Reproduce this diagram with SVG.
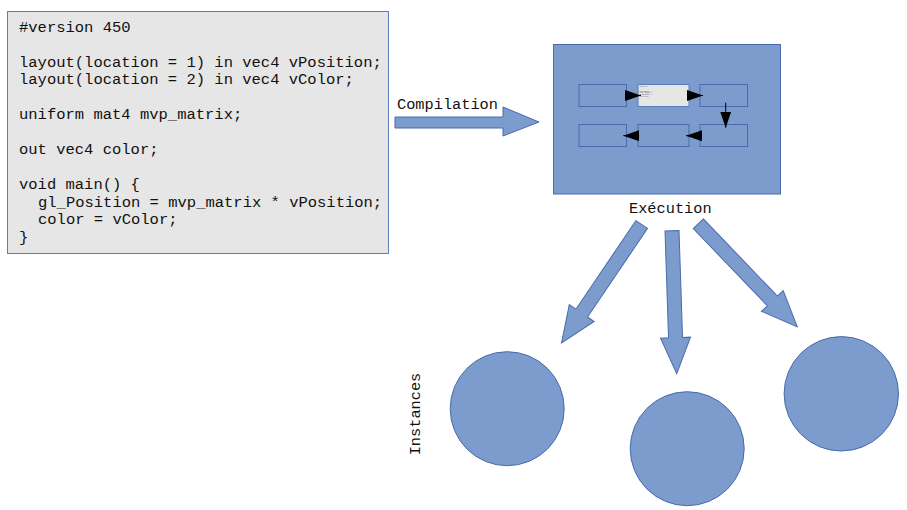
<svg xmlns="http://www.w3.org/2000/svg" width="907" height="510" viewBox="0 0 907 510">
<style>
.mono{font-family:"Liberation Mono","DejaVu Sans Mono",monospace;fill:#111}
.code{font-size:15.5px}
.lbl{font-size:15.3px}
.tiny{font-size:1.1px}
.blue{fill:#7b9ccd;stroke:#4a6aad;stroke-width:1}
.gray{fill:#e6e6e6;stroke:#5b7dba;stroke-width:1}
.conn{stroke:#000;stroke-width:1;fill:none}
</style>
<defs>
<marker id="tri" markerUnits="userSpaceOnUse" markerWidth="16" markerHeight="11" refX="16" refY="5.5" orient="auto">
<path d="M0,0 L16,5.5 L0,11 Z" fill="#000"/>
</marker>
<path id="barrow" d="M0,-7 L107,-7 L107,-15 L143,0 L107,15 L107,7 L0,7 Z"/>
</defs>

<g id="code">
<rect class="gray" x="7.5" y="11.5" width="381" height="242"/>
<text class="mono code" x="19" y="31.5">#version 450</text>
<text class="mono code" x="19" y="66.5">layout(location = 1) in vec4 vPosition;</text>
<text class="mono code" x="19" y="84">layout(location = 2) in vec4 vColor;</text>
<text class="mono code" x="19" y="119">uniform mat4 mvp_matrix;</text>
<text class="mono code" x="19" y="154">out vec4 color;</text>
<text class="mono code" x="19" y="189">void main() {</text>
<text class="mono code" x="38" y="206.5">gl_Position = mvp_matrix * vPosition;</text>
<text class="mono code" x="38" y="224">color = vColor;</text>
<text class="mono code" x="19" y="241.5">}</text>
</g>

<g id="compilation">
<path class="blue" d="M395,117 L503,117 L503,107 L539,122 L503,136 L503,128 L395,128 Z"/>
<text class="mono lbl" x="397" y="109.3">Compilation</text>
</g>

<g id="program">
<rect class="blue" x="553.5" y="44.5" width="227" height="149.5"/>
<g id="stage1"><rect class="blue" x="579" y="84.5" width="47.5" height="22"/></g>
<g id="stage2">
<rect class="gray" x="638" y="84.5" width="51" height="22"/>
<text class="mono tiny" x="639.3" y="87.2">#version 450</text>
<text class="mono tiny" x="639.3" y="91.6">layout(location = 1)</text>
<text class="mono tiny" x="639.3" y="93.3">in vec4 vPosition;</text>
<text class="mono tiny" x="639.3" y="95.2">layout(location = 2)</text>
<text class="mono tiny" x="639.3" y="96.9">in vec4 vColor;</text>
</g>
<g id="stage3"><rect class="blue" x="700" y="84.5" width="47.5" height="22"/></g>
<g id="stage4"><rect class="blue" x="700" y="124.5" width="47.5" height="22"/></g>
<g id="stage5"><rect class="blue" x="638" y="124.5" width="51" height="22"/></g>
<g id="stage6"><rect class="blue" x="579" y="124.5" width="47.5" height="22"/></g>
<g id="pipeline-connectors">
<path class="conn" d="M625,95.5 L641,95.5" marker-end="url(#tri)"/>
<path class="conn" d="M687,95.5 L703,95.5" marker-end="url(#tri)"/>
<path class="conn" d="M725.7,102.7 L725.7,127.7" marker-end="url(#tri)"/>
<path class="conn" d="M701.7,135.7 L686,135.7" marker-end="url(#tri)"/>
<path class="conn" d="M639.3,135.7 L623.3,135.7" marker-end="url(#tri)"/>
</g>
</g>

<text id="execution" class="mono lbl" x="629" y="212.5">Exécution</text>

<g id="connectors">
<use href="#barrow" class="blue" transform="translate(641.7,224.5) rotate(124.1)"/>
<use href="#barrow" class="blue" transform="translate(672,230.7) rotate(88.1)"/>
<use href="#barrow" class="blue" transform="translate(698.3,223.7) rotate(46.2)"/>
</g>

<text id="instances" class="mono lbl" transform="translate(420,414) rotate(-90)" text-anchor="middle" x="0" y="0">Instances</text>

<g id="instance1"><circle class="blue" cx="507.2" cy="408.7" r="57"/></g>
<g id="instance2"><circle class="blue" cx="687.2" cy="448.7" r="57"/></g>
<g id="instance3"><circle class="blue" cx="841.3" cy="393.8" r="57.2"/></g>
</svg>
